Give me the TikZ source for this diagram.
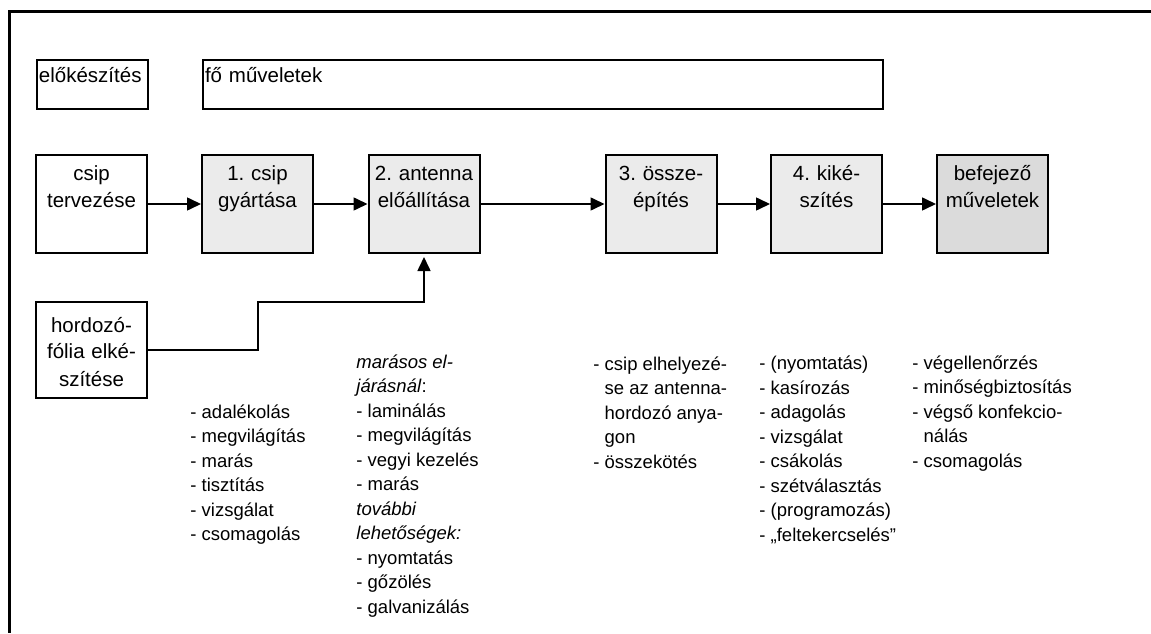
\documentclass[tikz,border=0pt]{standalone}
\usepackage{fontspec}
\setmainfont{Liberation Sans}
\usetikzlibrary{arrows.meta}
\frenchspacing
\definecolor{stagefill}{gray}{0.92}
\definecolor{finishfill}{gray}{0.86}
\newcommand*{\stagefont}{\fontsize{10.25pt}{13.5pt}\selectfont}
\newcommand*{\listfont}{\fontsize{9.25pt}{12.25pt}\selectfont}
\newcommand*{\hang}{\phantom{- }}
\tikzstyle{header} = [draw, line width=1pt, anchor=north west, inner xsep=1pt, inner ysep=0pt, text height=11.5pt, text depth=13pt, align=left, font=\stagefont]
\tikzstyle{stage} = [draw, line width=1pt, text width=53.5pt, inner xsep=1pt, inner ysep=0pt, text height=13pt, text depth=36pt, align=center, font=\stagefont]
\tikzstyle{mainstage} = [stage, fill=stagefill]
\tikzstyle{finishstage} = [stage, fill=finishfill]
\tikzstyle{worklist} = [anchor=base west, align=left, inner sep=0pt, font=\listfont]
\tikzstyle{flow} = [-{Triangle[length=7pt, width=6.5pt]}, line width=0.8pt]

\begin{document}
\begin{tikzpicture}[x=0.5pt, y=0.5pt]
    \useasboundingbox (0, 0) rectangle (1151, 633);

    % Frame.
    \draw [line width=1.2pt] (1151, 621.5) -- (9.5, 621.5) -- (9.5, 0);

    % Headers.
    \node (prep head) [header, text width=53.5pt] at (36, 574) {előkészítés};
    \node (main head) [header, text width=338pt] at (202, 574) {fő műveletek};

    % Nodes.
    \node (design) [stage] at (91.5, 429) {csip\\tervezése};
    \node (chip) [mainstage] at (257.5, 429) {1. csip\\gyártása};
    \node (antenna) [mainstage] at (424, 429) {2. antenna\\előállítása};
    \node (assembly) [mainstage] at (661, 429) {3. össze-\\építés};
    \node (finishing) [mainstage] at (826.5, 429) {4. kiké-\\szítés};
    \node (final) [finishstage] at (992.5, 429) {befejező\\műveletek};

    \node (carrier) [stage, text height=15pt, text depth=33pt] at (91.5, 283) {hordozó-\\fólia elké-\\szítése};
    \coordinate (bend) at (258, 331);

    % Lists (placed by their last line).
    \node (chip steps) [worklist] at (190, 92.5) {- adalékolás\\- megvilágítás\\- marás\\- tisztítás\\- vizsgálat\\- csomagolás};
    \node (antenna steps) [worklist] at (356, 20) {\textit{marásos el-}\\\textit{járásnál}:\\- laminálás\\- megvilágítás\\- vegyi kezelés\\- marás\\\textit{további}\\\textit{lehetőségek:}\\- nyomtatás\\- gőzölés\\- galvanizálás};
    \node (assembly steps) [worklist] at (593, 165) {- csip elhelyezé-\\\hang se az antenna-\\\hang hordozó anya-\\\hang gon\\- összekötés};
    \node (finishing steps) [worklist] at (759, 92) {- (nyomtatás)\\- kasírozás\\- adagolás\\- vizsgálat\\- csákolás\\- szétválasztás\\- (programozás)\\- „feltekercselés”};
    \node (final steps) [worklist] at (912, 166) {- végellenőrzés\\- minőségbiztosítás\\- végső konfekcio-\\\hang nálás\\- csomagolás};

    % Paths.
    \draw [flow] (design) -- (chip);
    \draw [flow] (chip) -- (antenna);
    \draw [flow] (antenna) -- (assembly);
    \draw [flow] (assembly) -- (finishing);
    \draw [flow] (finishing) -- (final);
    \draw [flow] (carrier.east) -| (bend) -| ([yshift=-1.5pt]antenna.south);
\end{tikzpicture}
\end{document}
